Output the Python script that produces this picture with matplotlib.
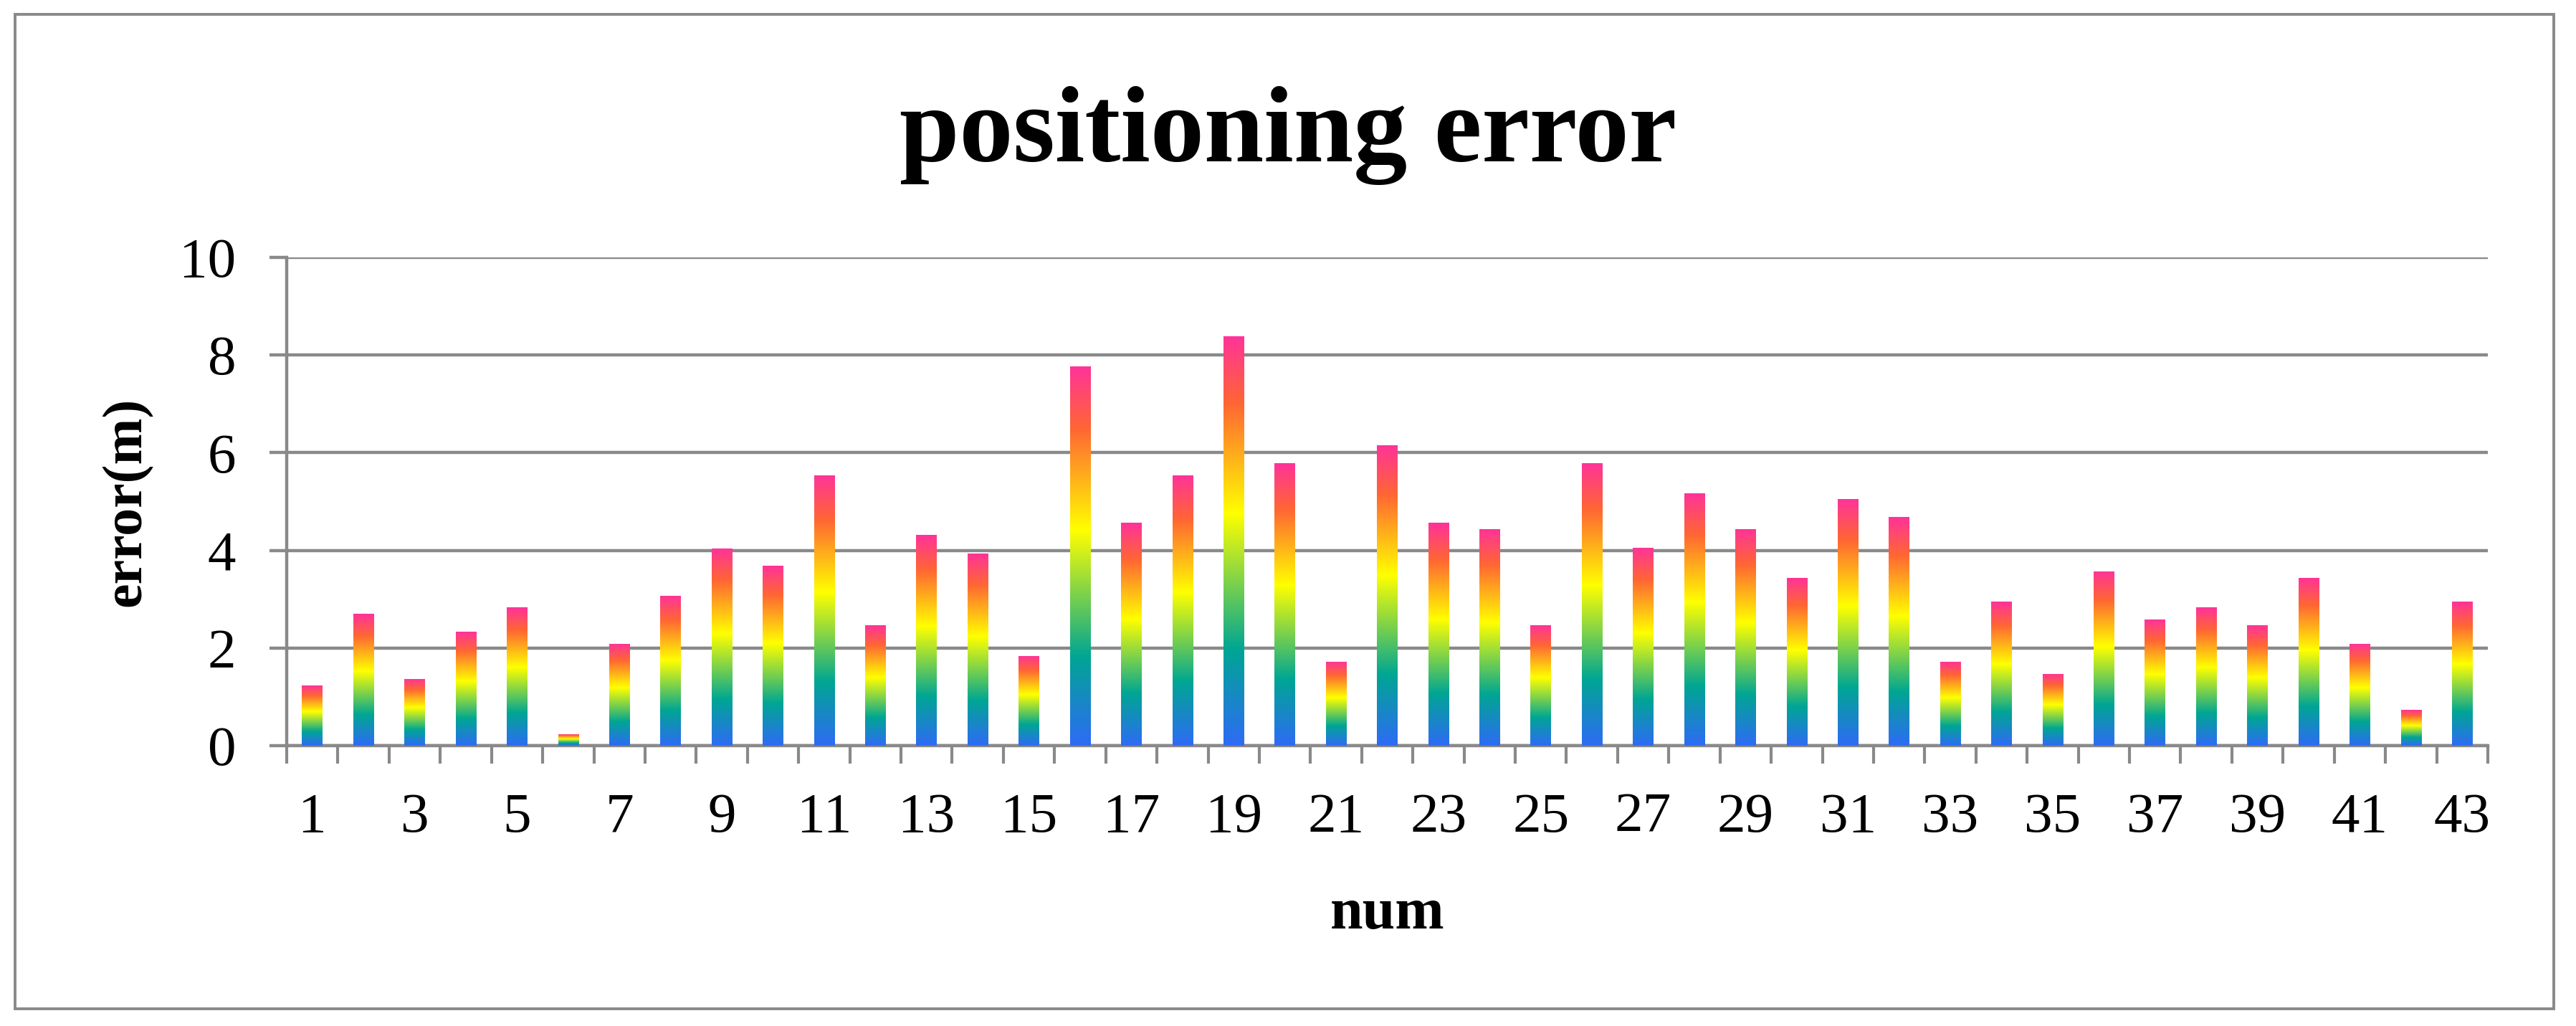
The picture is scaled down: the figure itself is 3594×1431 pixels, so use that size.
import numpy as np
import matplotlib
matplotlib.use("Agg")
import matplotlib.pyplot as plt
from matplotlib.colors import LinearSegmentedColormap
from matplotlib.patches import Rectangle

# ---- data ----
nums = list(range(1, 44))
errors = [1.23, 2.70, 1.37, 2.33, 2.83, 0.24, 2.09, 3.07, 4.04, 3.69,
          5.54, 2.46, 4.31, 3.94, 1.84, 7.77, 4.56, 5.54, 8.39, 5.79,
          1.72, 6.16, 4.56, 4.44, 2.46, 5.79, 4.06, 5.17, 4.44, 3.44,
          5.05, 4.68, 1.72, 2.95, 1.47, 3.57, 2.58, 2.83, 2.46, 3.44,
          2.09, 0.73, 2.95]
xtick_labels = [str(n) for n in range(1, 44, 2)]
yticks = [0, 2, 4, 6, 8, 10]

title = "positioning error"
xlabel = "num"
ylabel = "error(m)"

# gradient stops (bottom -> top of each bar)
grad_pos = [0.0, 0.235, 0.567, 0.835, 1.0]
grad_col = ["#2E6BF5", "#00A693", "#FFFF00", "#FF6633", "#FF3399"]

plt.rcParams['font.family'] = ['Liberation Serif', 'DejaVu Serif']
GRAY = "#898989"

fig = plt.figure(figsize=(35.94, 14.31), dpi=100)
ax = fig.add_axes([400 / 3594, 1 - 1040 / 1431, (3471 - 400) / 3594, (1040 - 359) / 1431])

cmap = LinearSegmentedColormap.from_list("rb", list(zip(grad_pos, grad_col)))
grad = np.linspace(0, 1, 256).reshape(-1, 1)

bars = ax.bar(nums, errors, width=0.4, facecolor='none', edgecolor='none', zorder=3)
for b in bars:
    x0, w, h = b.get_x(), b.get_width(), b.get_height()
    im = ax.imshow(grad, cmap=cmap, origin='lower', aspect='auto',
                   extent=[x0, x0 + w, 0, h], zorder=3, interpolation='bilinear')
    im.set_clip_path(b)

ax.set_xlim(0.5, 43.5)
ax.set_ylim(0, 10)

# grid
ax.set_yticks(yticks)
ax.yaxis.grid(True, color=GRAY, linewidth=3.2, zorder=1)
ax.set_axisbelow(True)

ax.set_xticks(range(1, 44, 2))
ax.set_xticklabels(xtick_labels)
ax.set_xticks(np.arange(0.5, 44.0, 1.0), minor=True)
ax.tick_params(axis='x', which='major', length=0, pad=47, labelsize=57)
ax.tick_params(axis='x', which='minor', length=18, width=3.0, color=GRAY, direction='out')
ax.tick_params(axis='y', which='major', length=17, width=3.2, color=GRAY,
               direction='out', pad=34, labelsize=57)

for s in ['top', 'right']:
    ax.spines[s].set_visible(False)
for s in ['left', 'bottom']:
    ax.spines[s].set_color(GRAY)
    ax.spines[s].set_linewidth(3.2)

ax.set_xlabel(xlabel, fontsize=59, fontweight='bold', labelpad=44)
ax.set_ylabel(ylabel, fontsize=56, fontweight='bold', labelpad=27)

fig.text(0.5, 0.843, title, ha='center', va='baseline', fontsize=108, fontweight='bold')

# outer chart border
fig.add_artist(Rectangle((21 / 3594, 1 - 1407 / 1431), (3563 - 21) / 3594, (1407 - 20) / 1431,
                         transform=fig.transFigure, fill=False, edgecolor=GRAY, linewidth=2.8))

fig.savefig("out.png", dpi=100, facecolor='white')
